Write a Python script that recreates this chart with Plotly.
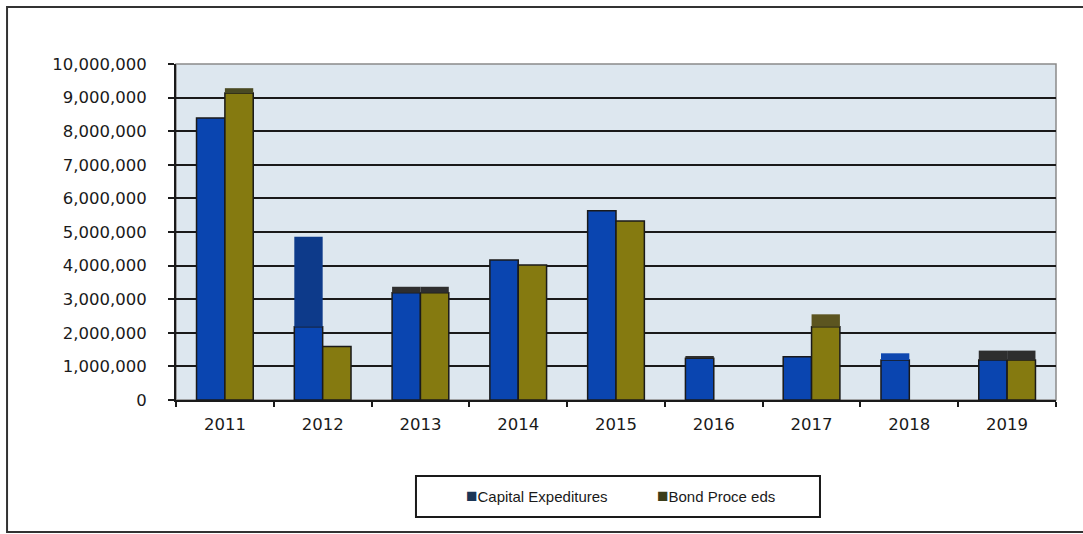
import plotly.graph_objects as go

years = ["2011", "2012", "2013", "2014", "2015", "2016", "2017", "2018", "2019"]

# Main bar heights (None = no bar for that year)
capex = [8390000, 2180000, 3190000, 4170000, 5630000, 1240000, 1290000, 1190000, 1190000]
bonds = [9140000, 1590000, 3190000, 4020000, 5330000, None, 2180000, None, 1190000]

# Darker top segments stacked on the main bars
capex_top = [None, 2680000, 180000, None, None, 70000, None, 200000, 280000]
bonds_top = [140000, None, 180000, None, None, None, 370000, None, 280000]

capex_top_colors = ["#0d3a8a", "#0d3a8a", "#2e2e2e", "#0d3a8a", "#0d3a8a",
                    "#2e2e2e", "#0d3a8a", "#0f48b0", "#2e2e2e"]
bonds_top_colors = ["#4a4a22", "#4a4a22", "#2e2e2e", "#4a4a22", "#4a4a22",
                    "#4a4a22", "#5c5520", "#4a4a22", "#2e2e2e"]

series_names = ["Capital Expeditures", "Bond Proce eds"]
legend_colors = ["#1b3556", "#3b3d1a"]

blue = "#0a45b0"
olive = "#857a10"

fig = go.Figure()

line = dict(color="#1a1a1a", width=1.5)

fig.add_trace(go.Bar(x=years, y=capex, name=series_names[0],
                     marker=dict(color=blue, line=line), offsetgroup="capex"))
fig.add_trace(go.Bar(x=years, y=bonds, name=series_names[1],
                     marker=dict(color=olive, line=line), offsetgroup="bonds"))

fig.add_trace(go.Bar(x=years, y=capex_top, base=capex, name=series_names[0],
                     marker=dict(color=capex_top_colors, line=dict(width=0)),
                     offsetgroup="capex"))
fig.add_trace(go.Bar(x=years, y=bonds_top, base=bonds, name=series_names[1],
                     marker=dict(color=bonds_top_colors, line=dict(width=0)),
                     offsetgroup="bonds"))

# Plot-area frame and outer chart border
fig.add_shape(type="rect", xref="paper", yref="paper", x0=0, x1=1, y0=0, y1=1,
              line=dict(color="#8a8a8a", width=1.5), layer="below")
fig.add_shape(type="rect", xref="paper", yref="paper", x0=-0.192, x1=1.05,
              y0=-0.393, y1=1.170, line=dict(color="#333333", width=2))

# Legend box with coloured squares next to each series name
fig.add_shape(type="rect", xref="paper", yref="paper", x0=0.2727, x1=0.7318,
              y0=-0.348, y1=-0.226, line=dict(color="#1a1a1a", width=2),
              fillcolor="white")
for name, color, xpos in zip(series_names, legend_colors, [0.3275, 0.5446]):
    fig.add_annotation(
        xref="paper", yref="paper", x=xpos, y=-0.2857, xanchor="left",
        yanchor="middle", showarrow=False,
        text=f"<span style='color:{color};font-size:19px'>■</span>{name}",
        font=dict(family="Liberation Sans, Arial, sans-serif", size=15,
                  color="#1a1a1a"),
    )

fig.update_layout(
    width=1083, height=534,
    margin=dict(l=176, r=27, t=64, b=134),
    paper_bgcolor="white",
    plot_bgcolor="#dde7ef",
    barmode="group",
    bargap=0.42,
    bargroupgap=0,
    font=dict(family="DejaVu Sans, sans-serif", size=16.5, color="#1a1a1a"),
    showlegend=False,
)

fig.update_xaxes(
    type="category", showline=True, linecolor="#1a1a1a", linewidth=2,
    ticks="outside", tickson="boundaries", ticklen=5, tickcolor="#1a1a1a",
    tickwidth=2, showgrid=False, ticklabelstandoff=8,
)
fig.update_yaxes(
    range=[0, 10000000], dtick=1000000, tickformat=",d",
    showline=True, linecolor="#1a1a1a", linewidth=2,
    ticks="outside", ticklen=6, tickcolor="#1a1a1a", tickwidth=2,
    showgrid=True, gridcolor="#1a1a1a", gridwidth=2, zeroline=False,
    ticklabelstandoff=18,
)

fig.write_html("out.html")
